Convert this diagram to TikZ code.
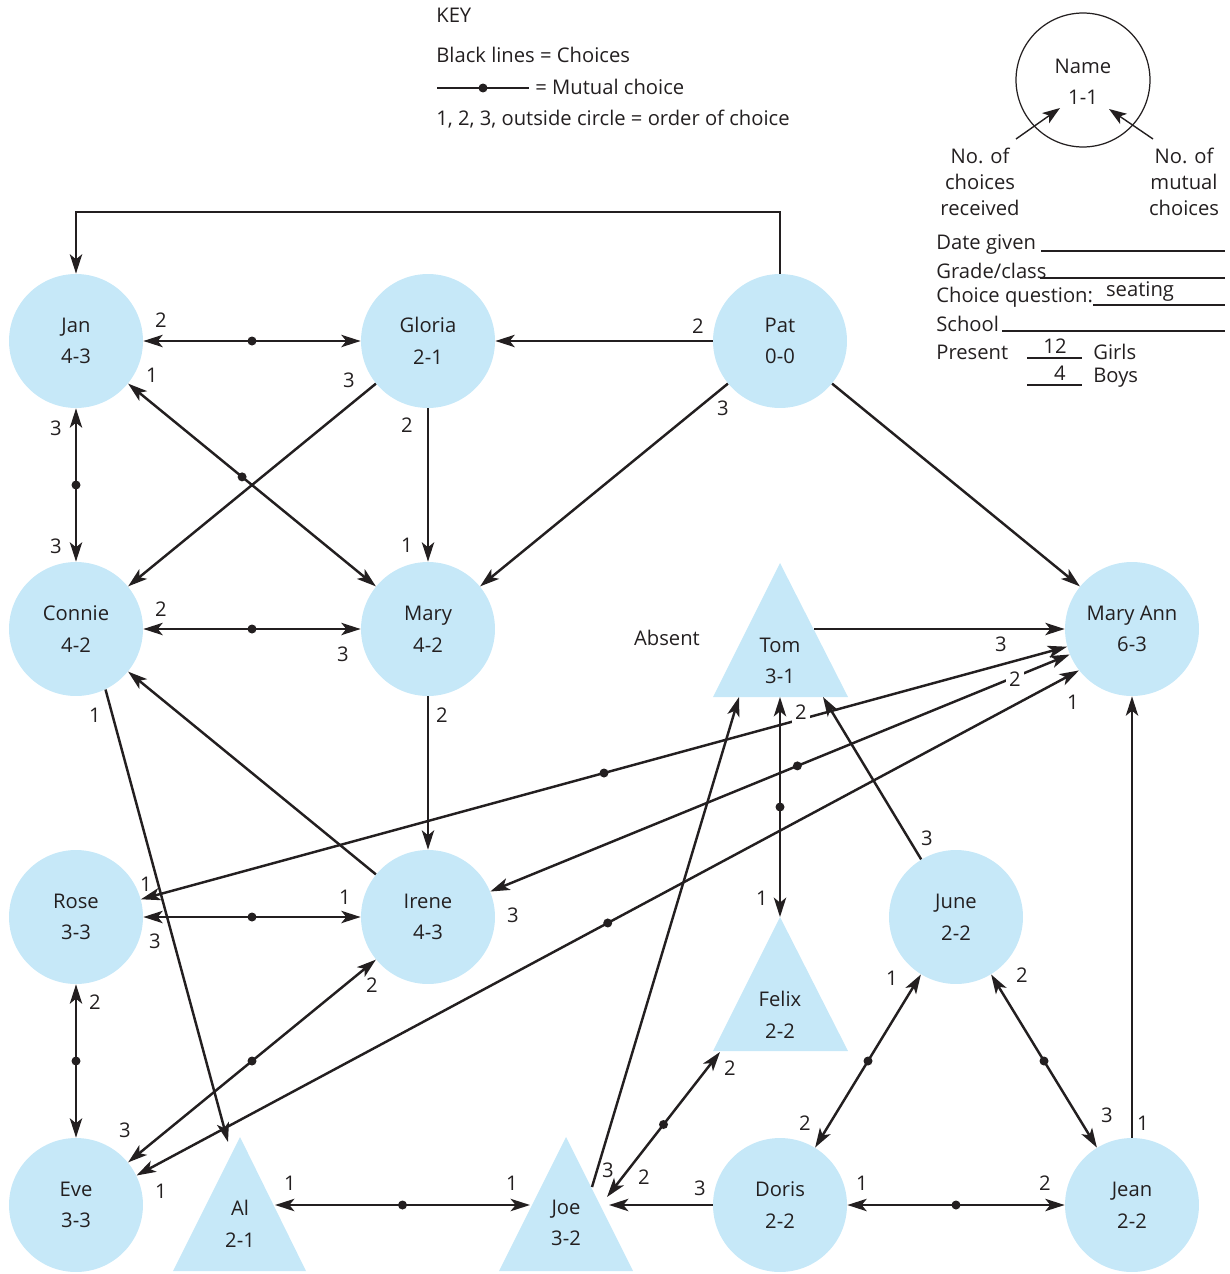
\documentclass[tikz,border=0pt]{standalone}
\usepackage{fontspec}
\setmainfont{Open Sans}
\usetikzlibrary{arrows.meta}
\definecolor{nb}{HTML}{C6E8F8}
\definecolor{tc}{HTML}{231F20}
\newcommand\nfont{\fontsize{11.5}{18}\selectfont}
\newcommand\kfont{\fontsize{11.5}{14.7}\selectfont}
\begin{document}
\begin{tikzpicture}[x=0.02cm, y=-0.02cm,
  person/.style={circle, fill=nb, minimum size=2.68cm, inner sep=0pt, align=center, font=\nfont, text=tc},
  tlabel/.style={inner sep=0pt, align=center, font=\nfont, text=tc},
  ln/.style={line width=1.4pt, draw=tc},
  ch/.style={ln, -{Stealth[length=11pt,width=7pt,inset=2.8pt]}},
  mu/.style={ln, {Stealth[length=11pt,width=7pt,inset=2.8pt]}-{Stealth[length=11pt,width=7pt,inset=2.8pt]}},
  dot/.style={circle, fill=tc, inner sep=0pt, minimum size=0.18cm},
  lbl/.style={font=\nfont, text=tc, inner sep=1pt},
  wlbl/.style={lbl, fill=white, inner sep=2pt},
  txt/.style={font=\nfont, text=tc, inner sep=0pt},
  ktxt/.style={font=\kfont, text=tc, inner sep=0pt, align=center},
  thinarr/.style={line width=0.8pt, draw=tc, -{Stealth[length=10pt,width=7pt,inset=2.5pt]}},
  uline/.style={line width=0.6pt, draw=tc}
]
\useasboundingbox (0,0) rectangle (1230,1274);

% ---- key ----
\node[txt, anchor=west] (key) at (436,15) {KEY};
\node[txt, anchor=west] (k1) at (436,55) {Black lines = Choices};
\coordinate (km1) at (437,88);
\coordinate (km2) at (529,88);
\draw[ln] (km1) -- node[dot]{} (km2);
\node[txt, anchor=west] (k2) at (535,87) {= Mutual choice};
\node[txt, anchor=west] (k3) at (436,119) {1, 2, 3, outside circle = order of choice};

% ---- legend circle ----
\node[circle, draw=tc, line width=0.7pt, minimum size=2.68cm, inner sep=0pt] (legend) at (1083,80) {};
\node[txt] (lname) at (1083,66) {Name};
\node[txt] (lnum) at (1083,97) {1-1};
\coordinate (la1) at (1016,139);
\coordinate (la1e) at (1060,108);
\coordinate (la2) at (1153,139);
\coordinate (la2e) at (1109,109);
\draw[thinarr] (la1) -- (la1e);
\draw[thinarr] (la2) -- (la2e);
\node[ktxt] (recv) at (980,182) {No. of\\choices\\received};
\node[ktxt] (mutl) at (1184,182) {No. of\\mutual\\choices};

% ---- form ----
\node[txt, anchor=west] (fdate) at (936,245) {Date given};
\coordinate (u1a) at (1041,251); \coordinate (u1b) at (1225,251);
\draw[uline] (u1a) -- (u1b);
\node[txt, anchor=west] (fgrade) at (936,271) {Grade/class};
\coordinate (u2a) at (1040,278); \coordinate (u2b) at (1225,278);
\draw[uline] (u2a) -- (u2b);
\node[txt, anchor=west] (fchoice) at (936,297) {Choice question:};
\coordinate (u3a) at (1093,305); \coordinate (u3b) at (1225,305);
\draw[uline] (u3a) -- (u3b);
\node[txt] (fseat) at (1140,292) {seating};
\node[txt, anchor=west] (fschool) at (936,324) {School};
\coordinate (u4a) at (1002,331); \coordinate (u4b) at (1225,331);
\draw[uline] (u4a) -- (u4b);
\node[txt, anchor=west] (fpres) at (936,352) {Present};
\node[txt] (f12) at (1055,346) {12};
\coordinate (u5a) at (1027,358); \coordinate (u5b) at (1082,358);
\draw[uline] (u5a) -- (u5b);
\node[txt, anchor=west] (fgirls) at (1093,352) {Girls};
\node[txt] (f4) at (1060,373) {4};
\coordinate (u6a) at (1027,385); \coordinate (u6b) at (1082,385);
\draw[uline] (u6a) -- (u6b);
\node[txt, anchor=west] (fboys) at (1093,378) {Boys};

% ---- people (circles) ----
\node[person] (jan) at (76,341) {Jan\\4-3};
\node[person] (gloria) at (428,341) {Gloria\\2-1};
\node[person] (pat) at (780,341) {Pat\\0-0};
\node[person] (connie) at (76,629) {Connie\\4-2};
\node[person] (mary) at (428,629) {Mary\\4-2};
\node[person] (ma) at (1132,629) {Mary Ann\\6-3};
\node[person] (rose) at (76,917) {Rose\\3-3};
\node[person] (irene) at (428,917) {Irene\\4-3};
\node[person] (june) at (956,917) {June\\2-2};
\node[person] (eve) at (76,1205) {Eve\\3-3};
\node[person] (doris) at (780,1205) {Doris\\2-2};
\node[person] (jean) at (1132,1205) {Jean\\2-2};

% ---- people (triangles) ----
\fill[nb] (780,563) -- (713,697) -- (848,697) -- cycle;
\node[tlabel] (tom) at (780,661) {Tom\\3-1};
\fill[nb] (780,917) -- (713,1051) -- (848,1051) -- cycle;
\node[tlabel] (felix) at (780,1015) {Felix\\2-2};
\fill[nb] (240,1137) -- (173,1271) -- (306,1271) -- cycle;
\node[tlabel] (al) at (240,1224) {Al\\2-1};
\fill[nb] (566,1137) -- (499,1271) -- (633,1271) -- cycle;
\node[tlabel] (joe) at (566,1223) {Joe\\3-2};

\node[txt] (absent) at (667,638) {Absent};

% connection points on triangles
\coordinate (tomR) at (814,629);
\coordinate (tomB1) at (739,697);
\coordinate (tomB2) at (780,697);
\coordinate (tomB3) at (823,697);
\coordinate (felA) at (780,917);
\coordinate (felL) at (720,1052);
\coordinate (joeR1) at (592,1187);
\coordinate (joeR2) at (607,1197);
\coordinate (joeR3) at (609,1205);
\coordinate (joeL) at (530,1205);
\coordinate (alR) at (275,1205);
\coordinate (alA) at (228,1142);
\coordinate (topy) at (0,212);

% ---- connectors ----
\draw[ch] (pat.north) -- (pat.north |- topy) -| (jan.north);
\draw[mu] (jan) -- node[dot]{} (gloria);
\draw[ch] (pat) -- (gloria);
\draw[mu] (jan) -- node[dot, pos=0.46]{} (mary);
\draw[ch] (gloria) -- (connie);
\draw[ch] (gloria) -- (mary);
\draw[mu] (jan) -- node[dot]{} (connie);
\draw[ch] (pat) -- (mary);
\draw[ch] (pat) -- (ma);
\draw[mu] (connie) -- node[dot]{} (mary);
\draw[ch] (mary) -- (irene);
\draw[ch] (irene) -- (connie);
\draw[ch] (connie.-64) -- (alA);
\draw[ch] (tomR) -- (ma.west);
\draw[mu] (rose) -- node[dot]{} (ma);
\draw[mu] (irene) -- node[dot, pos=0.53]{} (ma);
\draw[mu] (eve.26) -- node[dot]{} (ma.218);
\draw[mu] (tomB2) -- node[dot]{} (felA);
\draw[ch] (joeR1) -- (tomB1);
\draw[ch] (june) -- (tomB3);
\draw[mu] (felL) -- node[dot]{} (joeR2);
\draw[ch] (doris) -- (joeR3);
\draw[mu] (alR) -- node[dot]{} (joeL);
\draw[mu] (doris) -- node[dot]{} (jean);
\draw[mu] (june) -- node[dot]{} (doris);
\draw[mu] (june) -- node[dot]{} (jean);
\draw[ch] (jean) -- (ma);
\draw[mu] (rose) -- node[dot]{} (irene);
\draw[mu] (rose) -- node[dot]{} (eve);
\draw[mu] (irene) -- node[dot]{} (eve);

% ---- order labels ----
\node[lbl] (l01) at (161,320) {2};
\node[lbl] (l02) at (152,375) {1};
\node[lbl] (l03) at (349,380) {3};
\node[lbl] (l04) at (407,425) {2};
\node[lbl] (l05) at (407,545) {1};
\node[lbl] (l06) at (56,428) {3};
\node[lbl] (l07) at (56,546) {3};
\node[lbl] (l08) at (698,326) {2};
\node[lbl] (l09) at (723,408) {3};
\node[lbl] (l10) at (161,609) {2};
\node[lbl] (l11) at (343,654) {3};
\node[lbl] (l12) at (442,715) {2};
\node[lbl] (l13) at (95,715) {1};
\node[lbl] (l14) at (146,884) {1};
\node[lbl] (l15) at (1001,644) {3};
\node[lbl] (l16) at (345,897) {1};
\node[lbl] (l17) at (155,941) {3};
\node[lbl] (l18) at (513,915) {3};
\node[wlbl] (l19) at (1015,679) {2};
\node[wlbl] (l20) at (801,712) {2};
\node[lbl] (l21) at (762,898) {1};
\node[lbl] (l22) at (927,838) {3};
\node[lbl] (l23) at (95,1002) {2};
\node[lbl] (l24) at (372,985) {2};
\node[lbl] (l25) at (125,1130) {3};
\node[lbl] (l26) at (161,1191) {1};
\node[lbl] (l27) at (1073,702) {1};
\node[lbl] (l28) at (290,1183) {1};
\node[lbl] (l29) at (512,1183) {1};
\node[lbl] (l30) at (608,1170) {3};
\node[lbl] (l31) at (730,1068) {2};
\node[lbl] (l32) at (644,1177) {2};
\node[lbl] (l33) at (700,1188) {3};
\node[lbl] (l34) at (862,1183) {1};
\node[lbl] (l35) at (1045,1183) {2};
\node[lbl] (l36) at (892,978) {1};
\node[lbl] (l37) at (805,1123) {2};
\node[lbl] (l38) at (1022,975) {2};
\node[lbl] (l39) at (1107,1115) {3};
\node[lbl] (l40) at (1143,1123) {1};
\end{tikzpicture}
\end{document}
